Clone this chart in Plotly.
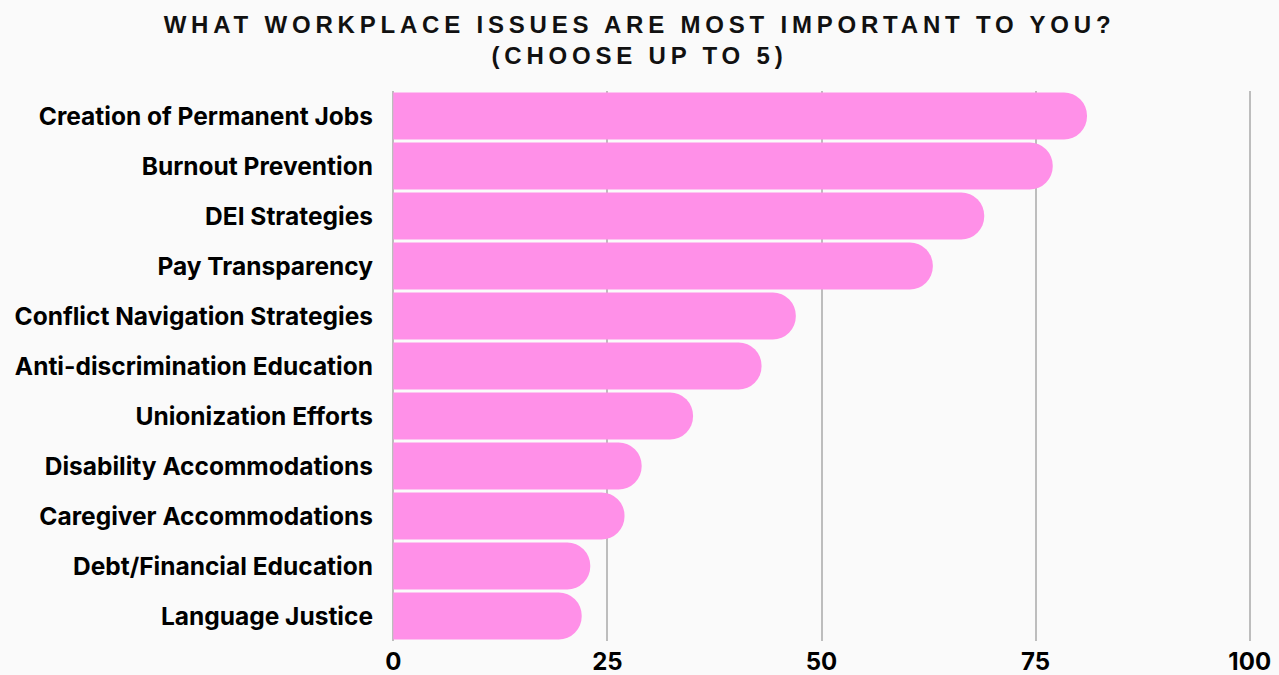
import plotly.graph_objects as go

categories = [
    "Creation of Permanent Jobs",
    "Burnout Prevention",
    "DEI Strategies",
    "Pay Transparency",
    "Conflict Navigation Strategies",
    "Anti-discrimination Education",
    "Unionization Efforts",
    "Disability Accommodations",
    "Caregiver Accommodations",
    "Debt/Financial Education",
    "Language Justice",
]
values = [81, 77, 69, 63, 47, 43, 35, 29, 27, 23, 22]
x_ticks = [0, 25, 50, 75, 100]

fig = go.Figure(
    go.Bar(
        x=values,
        y=categories,
        orientation="h",
        marker=dict(color="#FF90E8", cornerradius="50%", line=dict(width=0)),
        hoverinfo="x+y",
    )
)

fig.update_layout(
    width=1279,
    height=675,
    paper_bgcolor="#FAFAFA",
    plot_bgcolor="#FAFAFA",
    margin=dict(l=392, r=28, t=91, b=34),
    bargap=0.06,
    showlegend=False,
    title=dict(
        text="WHAT WORKPLACE ISSUES ARE MOST IMPORTANT TO YOU?<br>(CHOOSE UP TO 5)",
        x=0.5,
        xanchor="center",
        yref="container",
        y=1 - 33 / 675,
        yanchor="middle",
        font=dict(family="Liberation Sans, Arial, sans-serif", size=24, color="#111111", weight="bold"),
    ),
    xaxis=dict(
        range=[-0.15, 100.15],
        tickvals=x_ticks,
        ticktext=[str(t) for t in x_ticks],
        showgrid=True,
        gridcolor="#BDBDBD",
        gridwidth=2,
        zeroline=False,
        showline=False,
        ticks="",
        automargin=False,
        ticklabelstandoff=4,
        tickfont=dict(family="Inter, Liberation Sans, sans-serif", size=24, color="#000000", weight="bold"),
    ),
    yaxis=dict(
        categoryorder="array",
        categoryarray=categories,
        autorange="reversed",
        showgrid=False,
        zeroline=False,
        showline=False,
        ticks="",
        automargin=False,
        ticklabelstandoff=18,
        tickfont=dict(family="Inter, Liberation Sans, sans-serif", size=24.5, color="#000000", weight="bold"),
    ),
)

post = """
document.body.style.margin = '0';
document.body.style.background = '#FAFAFA';
document.querySelectorAll('.gtitle').forEach(function(t){ t.style.letterSpacing = '4.8px'; });
"""

fig.write_html("out.html", post_script=post, config={"displayModeBar": False})
